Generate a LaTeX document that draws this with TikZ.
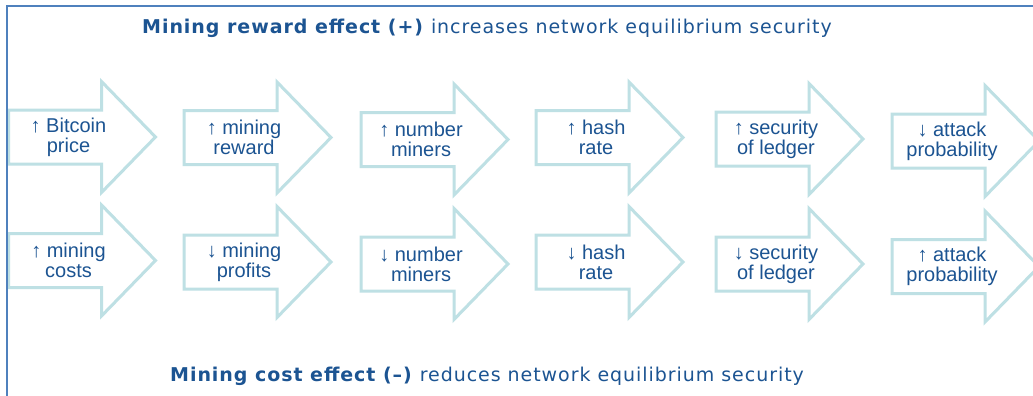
\documentclass[tikz,border=0pt]{standalone}
\usepackage{fontspec}
\setmainfont{Liberation Sans}
\newfontfamily\titlefont[LetterSpace=5]{DejaVu Sans}
\definecolor{txtblue}{RGB}{28,84,146}
\definecolor{framebl}{RGB}{79,129,189}
\definecolor{arrteal}{RGB}{190,224,228}
\newcommand\flowarr[4]{%
  \draw[arrowline] (#2,#3-27) -- (#2+93,#3-27) -- (#2+93,#3-55.5) -- (#2+147,#3)
    -- (#2+93,#3+55.5) -- (#2+93,#3+27) -- (#2,#3+27) -- cycle;
  \node[lbl] (#1) at (#2+60,#3) {#4};
}
\begin{document}
\begin{tikzpicture}[x=1pt,y=-1pt,
  arrowline/.style={draw=arrteal,line width=3pt,line join=miter},
  lbl/.style={text=txtblue,font=\fontsize{20}{20}\selectfont,align=center,inner sep=0pt},
  ttl/.style={text=txtblue,font=\titlefont\fontsize{19}{20}\selectfont,anchor=base west,inner sep=0pt}]
\useasboundingbox (0,0) rectangle (1033,396);
\clip (0,0) rectangle (1033,396);
\fill[white] (0,0) rectangle (1033,396);
% top row
\flowarr{a1}{8.5}{137}{↑ Bitcoin\\price}
\flowarr{a2}{184}{137.5}{↑ mining\\reward}
\flowarr{a3}{361}{139.5}{↑ number\\miners}
\flowarr{a4}{536}{137.5}{↑ hash\\rate}
\flowarr{a5}{716}{139}{↑ security\\of ledger}
\flowarr{a6}{892}{141}{↓ attack\\probability}
% bottom row
\flowarr{b1}{8.5}{260.5}{↑ mining\\costs}
\flowarr{b2}{184}{262}{↓ mining\\profits}
\flowarr{b3}{361}{264}{↓ number\\miners}
\flowarr{b4}{536}{262}{↓ hash\\rate}
\flowarr{b5}{716}{264}{↓ security\\of ledger}
\flowarr{b6}{892}{266.5}{↑ attack\\probability}
% frame
\draw[framebl,line width=2pt] (7,400) -- (7,6) -- (1040,6);
% titles
\node[ttl] (t1) at (142,34) {\textbf{Mining reward effect (+)} increases network equilibrium security};
\node[ttl] (t2) at (170,381) {\textbf{Mining cost effect (–)} reduces network equilibrium security};
\end{tikzpicture}
\end{document}
